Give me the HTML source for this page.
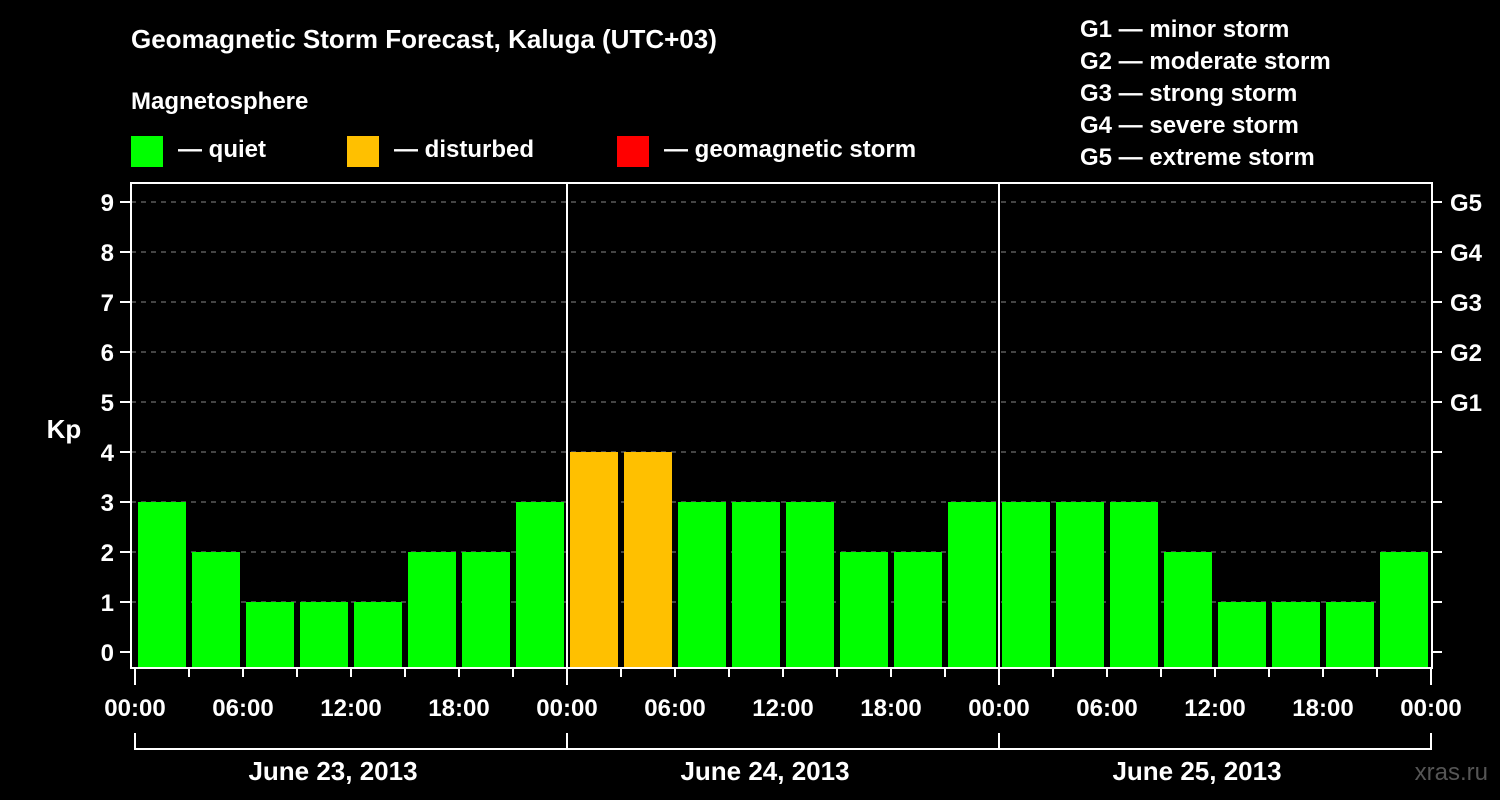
<!DOCTYPE html>
<html><head><meta charset="utf-8"><style>
body{margin:0;background:#000;}
svg{display:block;font-family:"Liberation Sans",sans-serif;font-weight:bold;}
</style></head><body>
<svg width="1500" height="800" viewBox="0 0 1500 800">
<rect width="1500" height="800" fill="#000"/>
<text x="131" y="48" fill="#fff" font-size="26">Geomagnetic Storm Forecast, Kaluga (UTC+03)</text>
<text x="131" y="109" fill="#fff" font-size="24">Magnetosphere</text>
<g><rect x="131" y="136" width="32" height="31" fill="#00ff00"/><text x="178" y="157" fill="#fff" font-size="24">— quiet</text></g>
<g><rect x="347" y="136" width="32" height="31" fill="#ffc000"/><text x="394" y="157" fill="#fff" font-size="24">— disturbed</text></g>
<g><rect x="617" y="136" width="32" height="31" fill="#ff0000"/><text x="664" y="157" fill="#fff" font-size="24">— geomagnetic storm</text></g>
<g fill="#fff" font-size="24">
<text x="1080" y="37">G1 — minor storm</text><text x="1080" y="69">G2 — moderate storm</text><text x="1080" y="101">G3 — strong storm</text><text x="1080" y="133">G4 — severe storm</text><text x="1080" y="165">G5 — extreme storm</text>
</g>
<g id="grid"></g><g id="bars"></g><g id="axes"></g>
<text x="64" y="438" fill="#fff" font-size="26" text-anchor="middle">Kp</text>
<text x="1488" y="780" fill="#555" font-size="24" text-anchor="end" font-weight="normal">xras.ru</text>
</svg>
<script>
const kpValues=[3,2,1,1,1,2,2,3, 4,4,3,3,3,2,2,3, 3,3,3,2,1,1,1,2];
const dayLabels=["June 23, 2013","June 24, 2013","June 25, 2013"];
const timeLabels=["00:00","06:00","12:00","18:00"];
const yTicks=[0,1,2,3,4,5,6,7,8,9];
const gLabels=["G1","G2","G3","G4","G5"];
const NS="http://www.w3.org/2000/svg";
const x0=135,dayW=432,slot=54,L=131,R=1432,T=183,B=668;
const y=v=>652-50*v;
const xs=i=>x0+i*slot;
function mk(tag,a,parent,txt){const e=document.createElementNS(NS,tag);for(const k in a)e.setAttribute(k,a[k]);if(txt!==undefined)e.textContent=txt;document.getElementById(parent).appendChild(e);return e;}
yTicks.forEach(v=>{
 if(v>0){const g=mk('line',{x1:L,x2:R,y1:y(v),y2:y(v),stroke:'#888','stroke-dasharray':'5,5','stroke-width':1},'grid');
 
 }
 const t=mk('text',{x:114,y:y(v)+9,fill:'#fff','font-size':24,'text-anchor':'end'},'axes',String(v));
 
 
 mk('line',{x1:120,x2:L,y1:y(v),y2:y(v),stroke:'#fff','stroke-width':2},'axes');
 mk('line',{x1:R,x2:1442,y1:y(v),y2:y(v),stroke:'#fff','stroke-width':2},'axes');
});
gLabels.forEach((g,i)=>{
 const t=mk('text',{x:1450,y:y(5+i)+9,fill:'#fff','font-size':24},'axes',g);
 
 
});
kpValues.forEach((v,i)=>{
 const c=v>=5?'#ff0000':v>=4?'#ffc000':'#00ff00';
 const b=mk('rect',{x:xs(i)+3,y:y(v),width:48,height:B-y(v),fill:c},'bars');
 
 
});
const fr=mk('rect',{x:L,y:T,width:R-L,height:B-T,fill:'none',stroke:'#fff','stroke-width':2},'axes');


for(let d=1;d<3;d++){mk('line',{x1:x0+d*dayW,x2:x0+d*dayW,y1:T,y2:B,stroke:'#fff','stroke-width':2},'axes');}
for(let i=0;i<=kpValues.length;i++){
 const isDay=i%8===0;
 mk('line',{x1:xs(i),x2:xs(i),y1:B,y2:isDay?685:677,stroke:'#fff','stroke-width':2},'axes');
 if(i%2===0){const t=mk('text',{x:xs(i),y:716,fill:'#fff','font-size':24,'text-anchor':'middle'},'axes',timeLabels[(i/2)%4]);
 
 }
}
mk('path',{d:`M${x0},733V749H${x0+3*dayW}V733`,fill:'none',stroke:'#fff','stroke-width':2},'axes');
for(let d=1;d<3;d++)mk('line',{x1:x0+d*dayW,x2:x0+d*dayW,y1:733,y2:749,stroke:'#fff','stroke-width':2},'axes');
dayLabels.forEach((l,d)=>{
 const t=mk('text',{x:x0+d*dayW+dayW/2-18,y:780,fill:'#fff','font-size':26,'text-anchor':'middle'},'axes',l);
 
 
});
</script>
</body></html>
